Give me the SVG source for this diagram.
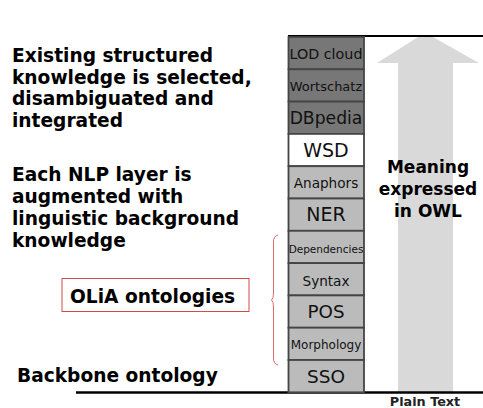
<svg xmlns="http://www.w3.org/2000/svg" width="483" height="408" viewBox="0 0 483 408">
<style>
.side{font-family:"DejaVu Sans",Verdana,sans-serif;font-weight:bold;font-size:18.6px;fill:#000}
.lay{font-family:"DejaVu Sans",Verdana,sans-serif;fill:#111;text-anchor:middle}
.box{stroke:#454545;stroke-width:1.8}
.dark{fill:#777777}
.light{fill:#bbbbbb}
.white{fill:#ffffff}
.owl{font-family:"DejaVu Sans",Verdana,sans-serif;font-weight:bold;font-size:17px;fill:#000;text-anchor:middle}
</style>
<rect width="483" height="408" fill="#ffffff"/>
<g id="arrow">
<polygon points="398,392 398,63 377,63 418,37 433,37 479,63 453,63 453,392" fill="#d9d9d9"/>
<text class="owl" x="428" y="173">Meaning</text>
<text class="owl" x="428" y="195">expressed</text>
<text class="owl" x="428" y="217">in OWL</text>
</g>
<g id="connectors">
<line x1="288" y1="36" x2="483" y2="36" stroke="#000" stroke-width="2"/>
<line x1="76" y1="392.5" x2="483" y2="392.5" stroke="#000" stroke-width="2.5"/>
<path d="M278,235 Q273.5,236 273.5,242 L273.5,293 Q273.5,299 271.5,300 Q273.5,301 273.5,307 L273.5,358 Q273.5,364 278,365" fill="none" stroke="#e06a6a" stroke-width="1"/>
</g>
<g id="layer-lod"><rect class="box dark" x="288.5" y="37" width="75.5" height="32.3"/><text class="lay" x="326" y="58.5" font-size="14.3">LOD cloud</text></g>
<g id="layer-wortschatz"><rect class="box dark" x="288.5" y="69.3" width="75.5" height="32.3"/><text class="lay" x="326" y="90.5" font-size="13">Wortschatz</text></g>
<g id="layer-dbpedia"><rect class="box dark" x="288.5" y="101.6" width="75.5" height="32.3"/><text class="lay" x="326" y="124" font-size="17.2">DBpedia</text></g>
<g id="layer-wsd"><rect class="box white" x="288.5" y="133.9" width="75.5" height="32.3"/><text class="lay" x="326" y="157" font-size="19">WSD</text></g>
<g id="layer-anaphors"><rect class="box light" x="288.5" y="166.2" width="75.5" height="32.3"/><text class="lay" x="326" y="187.5" font-size="13.6">Anaphors</text></g>
<g id="layer-ner"><rect class="box light" x="288.5" y="198.5" width="75.5" height="32.3"/><text class="lay" x="326" y="220.5" font-size="19">NER</text></g>
<g id="layer-dependencies"><rect class="box light" x="288.5" y="230.8" width="75.5" height="32.3"/><text class="lay" x="326" y="252.5" font-size="10.5">Dependencies</text></g>
<g id="layer-syntax"><rect class="box light" x="288.5" y="263.1" width="75.5" height="32.3"/><text class="lay" x="326" y="285.5" font-size="13.6">Syntax</text></g>
<g id="layer-pos"><rect class="box light" x="288.5" y="295.4" width="75.5" height="32.3"/><text class="lay" x="326" y="318" font-size="18.3">POS</text></g>
<g id="layer-morphology"><rect class="box light" x="288.5" y="327.7" width="75.5" height="32.3"/><text class="lay" x="326" y="349" font-size="12">Morphology</text></g>
<g id="layer-sso"><rect class="box light" x="288.5" y="360" width="75.5" height="32.3"/><text class="lay" x="326" y="383" font-size="18.5">SSO</text></g>
<g id="text-existing">
<text class="side" x="12" y="62">Existing structured</text>
<text class="side" x="12" y="83.7">knowledge is selected,</text>
<text class="side" x="12" y="105.4">disambiguated and</text>
<text class="side" x="12" y="127">integrated</text>
</g>
<g id="text-nlp">
<text class="side" x="12" y="181">Each NLP layer is</text>
<text class="side" x="12" y="203">augmented with</text>
<text class="side" x="12" y="225">linguistic background</text>
<text class="side" x="12" y="247">knowledge</text>
</g>
<g id="olia">
<rect x="62" y="278.5" width="187" height="33" fill="#fff" stroke="#d24a4a" stroke-width="1"/>
<text class="side" x="70" y="303" font-size="18.9">OLiA ontologies</text>
</g>
<g id="backbone"><text class="side" x="17" y="382">Backbone ontology</text></g>
<g id="plain-text"><text x="425" y="406" font-family="DejaVu Sans, Verdana, sans-serif" font-weight="bold" font-size="12.8" fill="#222" text-anchor="middle">Plain Text</text></g>
</svg>
